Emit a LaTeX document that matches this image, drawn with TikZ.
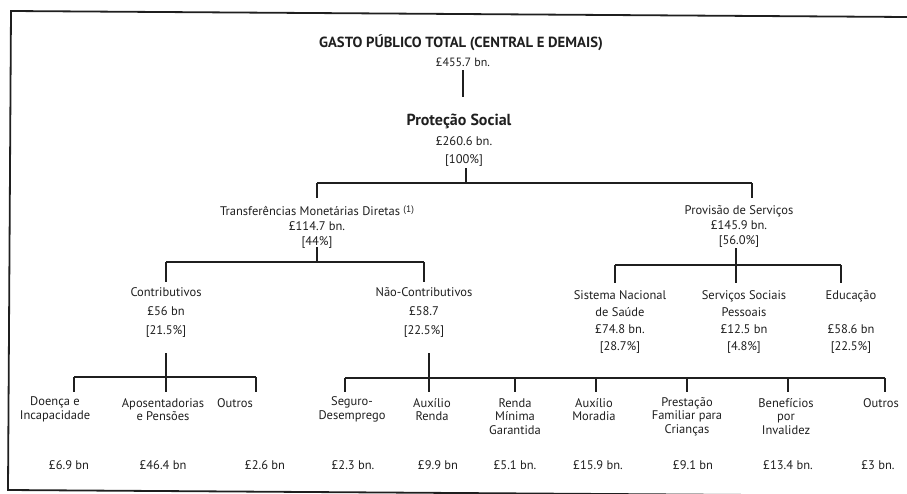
\documentclass[tikz,border=0pt]{standalone}
\usepackage{fontspec}
\setmainfont{PT Sans}
\begin{document}
\begin{tikzpicture}[x=1pt,y=-1pt,
  lbl/.style={align=center,inner sep=0pt,text=black!88,font=\fontsize{12.5}{13.5}\selectfont},
  ln/.style={line width=1.6pt,draw=black!88}]
\useasboundingbox (0,0) rectangle (907,493);
\draw[line width=1.8pt,black!88] (907,17) -- (11,11) -- (8,490) -- (907,496);

% top levels
\node[lbl,font=\bfseries\fontsize{14.7}{16}\selectfont] (gasto) at (461,43) {GASTO PÚBLICO TOTAL (CENTRAL E DEMAIS)};
\node[lbl,font=\fontsize{12}{12}\selectfont] (gastov) at (463,62) {£455.7 bn.};
\node[lbl,font=\bfseries\fontsize{16}{16}\selectfont] (ps) at (459,121) {Proteção Social};
\node[lbl,font=\fontsize{12.5}{18}\selectfont] (psv) at (464,151) {£260.6 bn.\\{[}100\%]};

% level 2
\node[lbl,font=\fontsize{12.5}{15}\selectfont] (tmd) at (317,227) {Transferências Monetárias Diretas \raisebox{0.45ex}{\fontsize{9.5}{9.5}\selectfont(1)}\\£114.7 bn.\\{[}44\%]};
\node[lbl,font=\fontsize{12.5}{15}\selectfont] (prov) at (739,226) {Provisão de Serviços\\£145.9 bn.\\{[}56.0\%]};

% level 3
\node[lbl,font=\fontsize{12.5}{19}\selectfont] (contr) at (166,312) {Contributivos\\£56 bn\\{[}21.5\%]};
\node[lbl,font=\fontsize{12.5}{19}\selectfont] (nao) at (424,312) {Não-Contributivos\\£58.7\\{[}22.5\%]};
\node[lbl,font=\fontsize{12.5}{17}\selectfont] (snm) at (620,321.5) {Sistema Nacional\\de Saúde\\£74.8 bn.\\{[}28.7\%]};
\node[lbl,font=\fontsize{12.5}{17}\selectfont] (ssp) at (744,321.5) {Serviços Sociais\\Pessoais\\£12.5 bn\\{[}4.8\%]};
\node[lbl,font=\fontsize{12.5}{17}\selectfont] (edu) at (851,321.5) {Educação\\\strut\\£58.6 bn\\{[}22.5\%]};

% level 4 labels
\node[lbl] (doenca) at (55,409.5) {Doença e\\Incapacidade};
\node[lbl] (apos) at (163,409.5) {Aposentadorias\\e Pensões};
\node[lbl] (out1) at (235,403) {Outros};
\node[lbl] (seg) at (352,409.5) {Seguro-\\Desemprego};
\node[lbl] (auxr) at (432,409.5) {Auxílio\\Renda};
\node[lbl] (renda) at (515,416.5) {Renda\\Mínima\\Garantida};
\node[lbl] (auxm) at (594,409.5) {Auxílio\\Moradia};
\node[lbl] (prest) at (687,416.5) {Prestação\\Familiar para\\Crianças};
\node[lbl] (benef) at (786,416.5) {Benefícios\\por\\Invalidez};
\node[lbl] (out2) at (881,403) {Outros};

% level 4 values
\node[lbl] (vdoenca) at (69,465) {£6.9 bn};
\node[lbl] (vapos) at (163,465) {£46.4 bn};
\node[lbl] (vout1) at (265,465) {£2.6 bn};
\node[lbl] (vseg) at (353,465) {£2.3 bn.};
\node[lbl] (vauxr) at (438,465) {£9.9 bn};
\node[lbl] (vrenda) at (515,465) {£5.1 bn.};
\node[lbl] (vauxm) at (598,465) {£15.9 bn.};
\node[lbl] (vprest) at (693,465) {£9.1 bn};
\node[lbl] (vbenef) at (788,465) {£13.4 bn.};
\node[lbl] (vout2) at (878,465) {£3 bn.};

% horizontal levels (y only)
\coordinate (y70) at (0,70);   \coordinate (y97) at (0,97);
\coordinate (y168) at (0,168); \coordinate (busA) at (0,183); \coordinate (y198) at (0,198);
\coordinate (y247) at (0,247); \coordinate (busB) at (0,262); \coordinate (y282) at (0,282);
\coordinate (y248) at (0,248); \coordinate (busC) at (0,265); \coordinate (y283) at (0,283);
\coordinate (y353) at (0,353); \coordinate (busD) at (0,377); \coordinate (busE) at (0,378);
\coordinate (y392) at (0,392);

% connector x positions taken from the nodes
\coordinate (psb) at ([xshift=2pt]psv.south);
\coordinate (tmdt) at (tmd.north);
\coordinate (provt) at ([xshift=13pt]prov.north);
\coordinate (tmdb) at (tmd.south);
\coordinate (provb) at ([xshift=-3pt]prov.south);
\coordinate (contrt) at (contr.north);
\coordinate (naot) at (nao.north);
\coordinate (snmt) at ([xshift=-5pt]snm.north);
\coordinate (sspt) at ([xshift=-8pt]ssp.north);
\coordinate (edut) at ([xshift=-10pt]edu.north);
\coordinate (contrb) at (contr.south);
\coordinate (naob) at ([xshift=5pt]nao.south);
\coordinate (doencat) at ([xshift=19pt]doenca.north);
\coordinate (apost) at ([xshift=3pt]apos.north);
\coordinate (out1t) at ([xshift=21pt]out1.north);
\coordinate (segt) at ([xshift=-7pt]seg.north);
\coordinate (auxrt) at ([xshift=-3pt]auxr.north);
\coordinate (rendat) at (renda.north);
\coordinate (auxmt) at ([xshift=2pt]auxm.north);
\coordinate (prestt) at (prest.north);
\coordinate (beneft) at ([xshift=2pt]benef.north);
\coordinate (out2t) at ([xshift=4pt]out2.north);

% connectors
\draw[line width=2.6pt,black!88] (gastov.south |- y70) -- (gastov.south |- y97);

\draw[ln] (psb |- y168) -- (psb |- busA);
\draw[ln] (tmdt |- busA) -- (provt |- busA);
\draw[ln] (tmdt |- busA) -- (tmdt |- y198);
\draw[ln] (provt |- busA) -- (provt |- y198);

\draw[ln] (tmdb |- y247) -- (tmdb |- busB);
\draw[ln] (contrt |- busB) -- (naot |- busB);
\draw[ln] (contrt |- busB) -- (contrt |- y282);
\draw[ln] (naot |- busB) -- (naot |- y282);

\draw[ln] (provb |- y248) -- (provb |- busC);
\draw[ln] (snmt |- busC) -- (edut |- busC);
\foreach \c in {snmt,sspt,edut}
  \draw[ln] (\c |- busC) -- (\c |- y283);

\draw[ln] (contrb |- y353) -- (contrb |- busD);
\draw[ln] (doencat |- busD) -- (out1t |- busD);
\foreach \c in {doencat,apost,out1t}
  \draw[ln] (\c |- busD) -- (\c |- y392);

\draw[ln] (naob |- y353) -- (naob |- busE);
\draw[ln] (segt |- busE) -- (out2t |- busE);
\foreach \c in {segt,auxrt,rendat,auxmt,prestt,beneft,out2t}
  \draw[ln] (\c |- busE) -- (\c |- y392);
\end{tikzpicture}
\end{document}
